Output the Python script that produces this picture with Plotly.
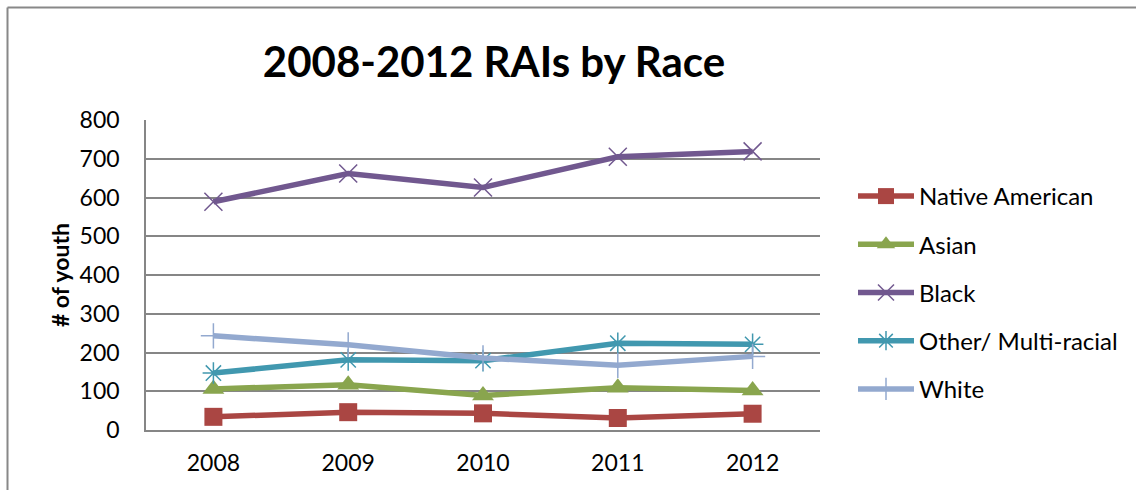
import plotly.graph_objects as go

years = ["2008", "2009", "2010", "2011", "2012"]
native_american = [34, 46, 43, 31, 42]
asian = [106, 117, 89, 109, 102]
black = [589, 662, 626, 705, 719]
other_multi = [147, 181, 179, 224, 221]
white = [243, 220, 186, 167, 190]

y_ticks = [0, 100, 200, 300, 400, 500, 600, 700, 800]

FONT = "Lato"

series = [
    ("Native American", native_american, "#AA4643", "square", 18, 0),
    ("Asian", asian, "#89A54E", "triangle-up", 19, 0),
    ("Black", black, "#71588F", "x-thin-open", 18, 1.5),
    ("Other/ Multi-racial", other_multi, "#4198AF", "asterisk-open", 18, 1.5),
    ("White", white, "#93A9CF", "cross-thin-open", 18, 1.5),
]

fig = go.Figure()
for i, (name, vals, color, sym, size, lw) in enumerate(series):
    marker = dict(symbol=sym, size=size, color=color)
    if lw:
        marker["line"] = dict(color=color, width=lw)
    fig.add_trace(go.Scatter(
        x=years, y=vals, name=name, mode="lines+markers",
        line=dict(color=color, width=5.5),
        marker=marker, legendgroup=str(i),
    ))

W, H = 1136, 490
L, R, T, B = 146, 820, 120, 430

def px_x(p):
    return (p - L) / (R - L)

def px_y(p):
    return (B - p) / (B - T)

fig.update_layout(
    width=W, height=H,
    margin=dict(l=L, r=W - R, t=T, b=H - B),
    paper_bgcolor="white", plot_bgcolor="white",
    font=dict(family=FONT, size=23, color="black"),
    title=dict(text="<b>2008-2012 RAIs by Race</b>", x=px_x(494), xref="paper",
               xanchor="center", y=1 - 62 / H, yanchor="middle",
               font=dict(family=FONT, size=42, color="black")),
    showlegend=True,
    legend=dict(x=px_x(853), xanchor="left", y=px_y(174), yanchor="top",
                traceorder="grouped", tracegroupgap=14, itemwidth=56,
                font=dict(family=FONT, size=24, color="black"),
                bgcolor="rgba(0,0,0,0)"),
    xaxis=dict(type="category", showgrid=False, showline=True,
               linecolor="#868686", linewidth=1.5, ticks="",
               ticklabelstandoff=12, range=[-0.5, 4.5],
               tickfont=dict(family=FONT, size=23)),
    yaxis=dict(range=[0, 800], tickvals=y_ticks, showgrid=True,
               gridcolor="#868686", gridwidth=1.5, showline=True,
               linecolor="#868686", linewidth=1.5, ticks="",
               ticklabelstandoff=20, zeroline=False,
               tickfont=dict(family=FONT, size=23),
               title=dict(text="<b># of youth</b>", standoff=4,
                          font=dict(family=FONT, size=23))),
    shapes=[
        dict(type="line", xref="paper", yref="paper",
             x0=px_x(7.5), x1=px_x(1140), y0=px_y(7.5), y1=px_y(7.5),
             line=dict(color="#888888", width=2)),
        dict(type="line", xref="paper", yref="paper",
             x0=px_x(7.5), x1=px_x(7.5), y0=px_y(7.5), y1=px_y(495),
             line=dict(color="#888888", width=2)),
    ],
)

fig.write_html("out.html")
